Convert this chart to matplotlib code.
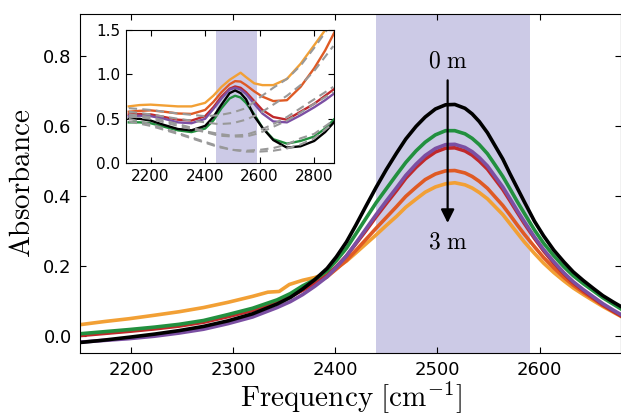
import matplotlib
matplotlib.use("Agg")
import matplotlib.pyplot as plt

plt.rcParams['mathtext.fontset'] = 'cm'
plt.rcParams['font.family'] = ['DejaVu Sans']

# ---------------- main panel data ----------------
freq = [2150, 2174, 2198, 2223, 2247, 2271, 2295, 2319, 2343, 2356, 2368, 2380,
        2392, 2401, 2411, 2420, 2430, 2440, 2450, 2460, 2469, 2479, 2488, 2498,
        2508, 2517, 2527, 2534, 2541, 2549, 2556, 2564, 2571, 2578, 2585, 2595,
        2604, 2614, 2624, 2633, 2643, 2653, 2662, 2672, 2682]
abs_black = [-0.020, -0.013, -0.005, 0.004, 0.014, 0.026, 0.042, 0.062, 0.090, 0.109,
             0.133, 0.160, 0.192, 0.225, 0.268, 0.315, 0.370, 0.424, 0.475, 0.522,
             0.562, 0.598, 0.625, 0.648, 0.660, 0.661, 0.650, 0.634, 0.612, 0.580,
             0.545, 0.505, 0.463, 0.423, 0.383, 0.327, 0.285, 0.244, 0.210, 0.182,
             0.157, 0.134, 0.114, 0.096, 0.079]
abs_green = [0.005, 0.011, 0.017, 0.024, 0.032, 0.043, 0.060, 0.078, 0.102, 0.120,
             0.142, 0.160, 0.185, 0.214, 0.250, 0.290, 0.335, 0.380, 0.420, 0.460,
             0.495, 0.528, 0.553, 0.574, 0.586, 0.586, 0.577, 0.564, 0.546, 0.520,
             0.490, 0.455, 0.420, 0.384, 0.350, 0.302, 0.264, 0.228, 0.196, 0.171,
             0.148, 0.127, 0.108, 0.090, 0.072]
abs_purple = [-0.019, -0.014, -0.009, -0.002, 0.007, 0.018, 0.034, 0.053, 0.080, 0.097,
              0.117, 0.141, 0.168, 0.195, 0.228, 0.264, 0.305, 0.346, 0.385, 0.423,
              0.458, 0.490, 0.515, 0.535, 0.546, 0.547, 0.538, 0.526, 0.509, 0.485,
              0.457, 0.425, 0.392, 0.358, 0.326, 0.282, 0.246, 0.211, 0.179, 0.154,
              0.131, 0.110, 0.091, 0.073, 0.056]
abs_crimson = [0.000, 0.006, 0.012, 0.019, 0.027, 0.038, 0.054, 0.072, 0.096, 0.111,
               0.130, 0.150, 0.172, 0.197, 0.228, 0.262, 0.300, 0.340, 0.378, 0.415,
               0.450, 0.481, 0.505, 0.525, 0.536, 0.537, 0.528, 0.516, 0.499, 0.476,
               0.449, 0.418, 0.386, 0.353, 0.321, 0.278, 0.242, 0.207, 0.176, 0.151,
               0.128, 0.107, 0.088, 0.070, 0.053]
abs_orangered = [0.002, 0.008, 0.014, 0.021, 0.029, 0.040, 0.056, 0.074, 0.098, 0.113,
                 0.130, 0.148, 0.168, 0.190, 0.215, 0.243, 0.275, 0.307, 0.338, 0.369,
                 0.398, 0.424, 0.446, 0.462, 0.471, 0.472, 0.465, 0.455, 0.441, 0.421,
                 0.398, 0.372, 0.345, 0.317, 0.290, 0.254, 0.223, 0.193, 0.166, 0.144,
                 0.123, 0.104, 0.086, 0.069, 0.052]
freq_orange = [2150, 2174, 2198, 2223, 2247, 2271, 2295, 2319, 2334, 2345, 2355, 2368,
               2380, 2392, 2401, 2411, 2420, 2430, 2440, 2450, 2460, 2469, 2479, 2488,
               2498, 2508, 2517, 2527, 2534, 2541, 2549, 2556, 2564, 2571, 2578, 2585,
               2595, 2604, 2614, 2624, 2633, 2643, 2653, 2662, 2672, 2682]
abs_orange = [0.031, 0.040, 0.048, 0.058, 0.068, 0.080, 0.095, 0.112, 0.124, 0.126,
              0.146, 0.158, 0.166, 0.178, 0.193, 0.213, 0.236, 0.262, 0.288, 0.315,
              0.341, 0.367, 0.390, 0.410, 0.425, 0.434, 0.437, 0.431, 0.422, 0.409,
              0.391, 0.370, 0.346, 0.320, 0.294, 0.268, 0.235, 0.207, 0.180, 0.156,
              0.136, 0.117, 0.099, 0.083, 0.067, 0.051]

# ---------------- inset data ----------------
freq_in = [2120, 2160, 2200, 2250, 2300, 2350, 2400, 2430, 2460, 2490, 2510, 2530,
           2550, 2580, 2610, 2650, 2700, 2750, 2800, 2840, 2875]
in_orange = [0.64, 0.655, 0.66, 0.65, 0.64, 0.64, 0.68, 0.76, 0.86, 0.94, 0.98, 1.02,
             0.97, 0.90, 0.88, 0.88, 0.95, 1.12, 1.33, 1.50, 1.62]
in_orangered = [0.58, 0.59, 0.595, 0.58, 0.56, 0.555, 0.60, 0.69, 0.80, 0.89, 0.925, 0.92,
                0.88, 0.81, 0.75, 0.70, 0.71, 0.86, 1.07, 1.27, 1.48]
in_crimson = [0.55, 0.555, 0.55, 0.52, 0.49, 0.48, 0.53, 0.63, 0.75, 0.84, 0.865, 0.85,
              0.80, 0.70, 0.60, 0.52, 0.49, 0.58, 0.67, 0.76, 0.84]
in_purple = [0.53, 0.535, 0.53, 0.50, 0.46, 0.45, 0.50, 0.61, 0.73, 0.83, 0.85, 0.83,
             0.78, 0.67, 0.56, 0.47, 0.46, 0.54, 0.63, 0.71, 0.79]
in_black = [0.50, 0.50, 0.48, 0.43, 0.385, 0.37, 0.42, 0.52, 0.66, 0.79, 0.82, 0.79,
            0.72, 0.53, 0.40, 0.26, 0.175, 0.19, 0.25, 0.35, 0.47]
in_green = [0.46, 0.46, 0.45, 0.41, 0.37, 0.35, 0.39, 0.48, 0.62, 0.73, 0.76, 0.74,
            0.68, 0.55, 0.40, 0.27, 0.22, 0.25, 0.30, 0.39, 0.50]

freq_base = [2120, 2200, 2300, 2400, 2450, 2500, 2550, 2600, 2650, 2700, 2750, 2800, 2870]
base_1 = [0.62, 0.60, 0.56, 0.53, 0.54, 0.57, 0.62, 0.74, 0.85, 0.95, 1.10, 1.30, 1.60]
base_2 = [0.58, 0.55, 0.50, 0.46, 0.44, 0.45, 0.49, 0.56, 0.66, 0.76, 0.88, 1.04, 1.32]
base_3 = [0.55, 0.52, 0.44, 0.36, 0.33, 0.31, 0.32, 0.37, 0.44, 0.52, 0.62, 0.72, 0.86]
base_4 = [0.53, 0.50, 0.42, 0.35, 0.31, 0.30, 0.30, 0.34, 0.41, 0.48, 0.57, 0.67, 0.80]
base_5 = [0.50, 0.44, 0.34, 0.24, 0.19, 0.15, 0.13, 0.13, 0.14, 0.165, 0.21, 0.28, 0.45]
base_6 = [0.47, 0.42, 0.33, 0.23, 0.18, 0.15, 0.14, 0.15, 0.17, 0.21, 0.28, 0.33, 0.48]

band = (2440, 2591)
arrow_x = 2510

c_black = '#000000'
c_green = '#22903f'
c_purple = '#7b4fa3'
c_crimson = '#c0282a'
c_orangered = '#df5a24'
c_orange = '#f2a035'
c_band = '#cccae6'

fig = plt.figure(figsize=(6.21, 4.13), dpi=100)
ax = fig.add_axes([0.1288, 0.1453, 0.8716, 0.821])

ax.axvspan(band[0], band[1], color=c_band, lw=0, zorder=0)
lw = 2.6
ax.plot(freq_orange, abs_orange, color=c_orange, lw=lw)
ax.plot(freq, abs_orangered, color=c_orangered, lw=lw)
ax.plot(freq, abs_crimson, color=c_crimson, lw=lw)
ax.plot(freq, abs_purple, color=c_purple, lw=lw)
ax.plot(freq, abs_green, color=c_green, lw=lw)
ax.plot(freq, abs_black, color=c_black, lw=lw)

ax.set_xlim(2150, 2680)
ax.set_ylim(-0.05, 0.92)
ax.set_xticks([2200, 2300, 2400, 2500, 2600])
ax.set_yticks([0.0, 0.2, 0.4, 0.6, 0.8])
ax.set_yticklabels(['0.0', '0.2', '0.4', '0.6', '0.8'])
ax.tick_params(direction='in', top=True, right=True, length=4.5, width=0.8,
               labelsize=13, pad=6)
ax.set_xlabel(r'$\mathrm{Frequency}\ [\mathrm{cm}^{-1}]$', fontsize=21, labelpad=0)
ax.set_ylabel(r'$\mathrm{Absorbance}$', fontsize=21, labelpad=5)

ax.annotate('', xy=(arrow_x, 0.322), xytext=(arrow_x, 0.73),
            arrowprops=dict(arrowstyle='-|>', lw=1.6, color='k', mutation_scale=20,
                            shrinkA=0, shrinkB=0))
ax.text(arrow_x, 0.786, r'$0\ \mathrm{m}$', fontsize=17, ha='center', va='center')
ax.text(arrow_x, 0.268, r'$3\ \mathrm{m}$', fontsize=17, ha='center', va='center')

# ---------------- inset ----------------
axi = fig.add_axes([0.203, 0.605, 0.335, 0.322])
axi.axvspan(band[0], band[1], color=c_band, lw=0, zorder=0)
lwi = 1.7
axi.plot(freq_in, in_orange, color=c_orange, lw=lwi)
axi.plot(freq_in, in_orangered, color=c_orangered, lw=lwi)
axi.plot(freq_in, in_crimson, color=c_crimson, lw=lwi)
axi.plot(freq_in, in_purple, color=c_purple, lw=lwi)
axi.plot(freq_in, in_green, color=c_green, lw=lwi)
axi.plot(freq_in, in_black, color=c_black, lw=lwi)
for b in (base_1, base_2, base_3, base_4, base_5, base_6):
    axi.plot(freq_base, b, color='#999999', lw=1.5, ls=(0, (4, 2.5)))
axi.set_xlim(2110, 2873)
axi.set_ylim(0.0, 1.5)
axi.set_xticks([2200, 2400, 2600, 2800])
axi.set_yticks([0.0, 0.5, 1.0, 1.5])
axi.set_yticklabels(['0.0', '0.5', '1.0', '1.5'])
axi.tick_params(direction='in', top=True, right=True, length=4, width=0.8,
                labelsize=11, pad=4)

fig.savefig('out.png', dpi=100)
